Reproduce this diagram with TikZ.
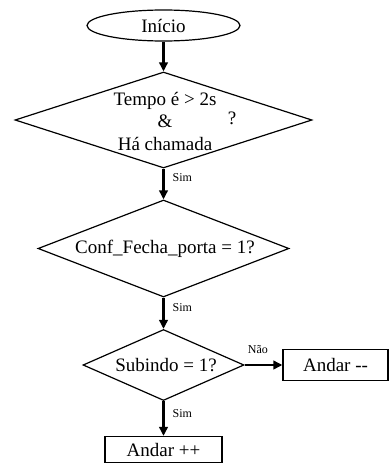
\documentclass[tikz,border=0pt]{standalone}
\usepackage{fontspec}
\setmainfont{Liberation Serif}
\usetikzlibrary{shapes.geometric,arrows.meta}

\begin{document}
\begin{tikzpicture}[x=1pt, y=-1pt,
		decision/.style = {draw, diamond, inner sep=0pt, line width=1.2pt},
		block/.style = {draw, rectangle, inner sep=0pt, line width=1.2pt},
		flow/.style = {line width=2.4pt, -{Triangle[length=9pt,width=8.5pt]}},
		lbl/.style = {font=\fontsize{12}{14}\selectfont, inner sep=0pt},
		font=\fontsize{19}{22.5}\selectfont]
				\useasboundingbox (0,0) rectangle (389,463);
				
				\node[draw, ellipse, inner sep=0pt, line width=1.2pt, minimum width=153, minimum height=31] (inicio) at (163.5,25.5) {Início};
				\node[decision, minimum width=297, minimum height=96] (cond1) at (163.5,120) {};
				\node[align=center, inner sep=0pt] (cond1txt) at (165,121) {Tempo é > 2s\\\&\\Há chamada};
				\node[inner sep=0pt] (quest) at (232,118) {?};
				\node[decision, minimum width=251, minimum height=97] (cond2) at (163.5,248.5) {};
				\node[inner sep=0pt] (cond2txt) at (165,249) {Conf\_Fecha\_porta = 1?};
				\node[decision, minimum width=161, minimum height=71] (cond3) at (163.5,365) {};
				\node[inner sep=0pt] (cond3txt) at (166,365) {Subindo = 1?};
				\node[block, minimum width=105, minimum height=31] (desce) at (335.5,365) {Andar -{}-};
				\node[block, minimum width=117, minimum height=26] (sobe) at (163.5,449.5) {Andar ++};
				
				\draw[flow] (inicio) -- (cond1);
				\draw[flow] (cond1) -- node[lbl, right=8pt, pos=.3] (sim1) {Sim} (cond2);
				\draw[flow] (cond2) -- node[lbl, right=8pt, pos=.31] (sim2) {Sim} (cond3);
				\draw[flow] (cond3) -- node[lbl, right=8pt, pos=.35] (sim3) {Sim} (sobe);
				\draw[flow] (cond3) -- node[lbl, above=10pt, pos=.35] (nao) {Não} (desce);
			\end{tikzpicture}
\end{document}
